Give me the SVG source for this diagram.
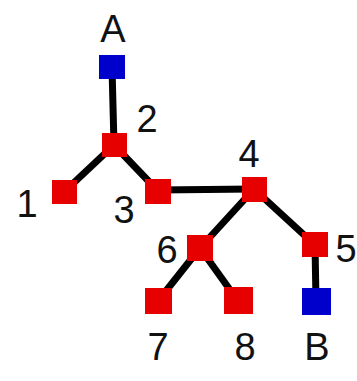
<svg xmlns="http://www.w3.org/2000/svg" width="357" height="381" viewBox="0 0 357 381">
<style>
.e{stroke:#000;stroke-width:7;stroke-linecap:butt;fill:none}
.r{fill:#e60000}
.b{fill:#0000cc}
.t{font-family:"Liberation Sans",Arial,sans-serif;font-size:38px;fill:#111;text-anchor:middle}
</style>
<rect width="357" height="381" fill="#fff"/>
<g id="connectors">
<line class="e" x1="112" y1="67" x2="114" y2="145"/>
<line class="e" x1="114" y1="145" x2="65" y2="191"/>
<line class="e" x1="114" y1="145" x2="158" y2="191"/>
<line class="e" x1="158" y1="190" x2="254" y2="189"/>
<line class="e" x1="254" y1="189" x2="200" y2="248"/>
<line class="e" x1="254" y1="189" x2="315" y2="245"/>
<line class="e" x1="200" y1="248" x2="158" y2="301"/>
<line class="e" x1="200" y1="248" x2="238" y2="301"/>
<line class="e" x1="315" y1="245" x2="316" y2="301"/>
</g>
<g id="nodeA"><rect class="b" x="99" y="55" width="26" height="24"/><text class="t" x="113" y="42">A</text></g>
<g id="node2"><rect class="r" x="102" y="133" width="25" height="24"/><text class="t" x="147" y="132">2</text></g>
<g id="node1"><rect class="r" x="52" y="180" width="25" height="24"/><text class="t" x="27" y="217">1</text></g>
<g id="node3"><rect class="r" x="145" y="179" width="26" height="25"/><text class="t" x="124" y="223">3</text></g>
<g id="node4"><rect class="r" x="242" y="177" width="25" height="25"/><text class="t" x="249" y="167">4</text></g>
<g id="node6"><rect class="r" x="187" y="235" width="26" height="26"/><text class="t" x="167" y="263">6</text></g>
<g id="node5"><rect class="r" x="302" y="232" width="26" height="25"/><text class="t" x="346" y="262">5</text></g>
<g id="node7"><rect class="r" x="145" y="288" width="27" height="26"/><text class="t" x="158" y="360">7</text></g>
<g id="node8"><rect class="r" x="224" y="287" width="29" height="27"/><text class="t" x="245" y="360">8</text></g>
<g id="nodeB"><rect class="b" x="302" y="288" width="29" height="27"/><text class="t" x="317" y="360">B</text></g>
</svg>
